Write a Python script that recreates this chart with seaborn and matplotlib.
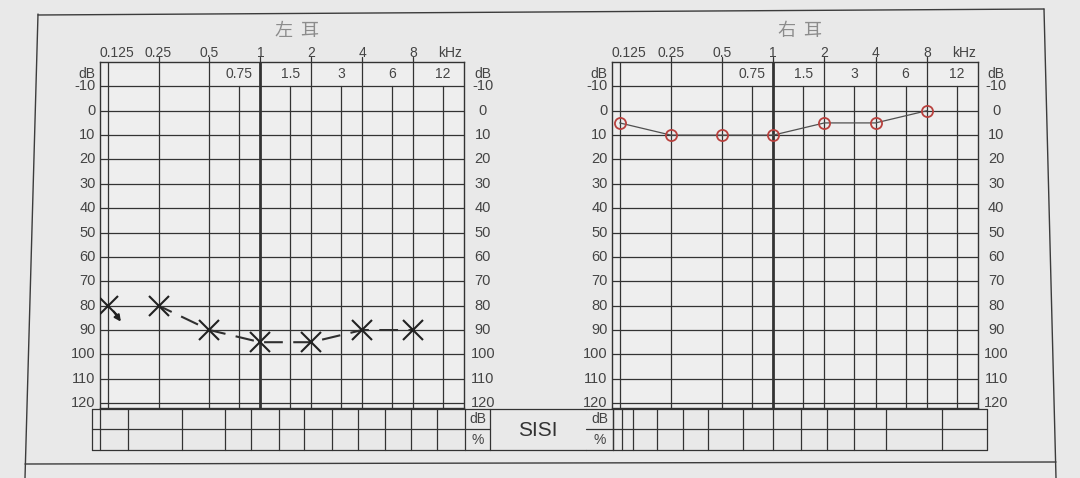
import matplotlib
matplotlib.use("Agg")
import matplotlib.pyplot as plt
from matplotlib.ticker import NullLocator
import pandas as pd
import seaborn as sns

# audiogram values
freqs = [0.125, 0.25, 0.5, 1, 2, 4, 8]
octave_labels = ["0.125", "0.25", "0.5", "1", "2", "4", "8"]
mid_freqs = [0.75, 1.5, 3, 6, 12]
mid_labels = ["0.75", "1.5", "3", "6", "12"]
db_ticks = list(range(-10, 130, 10))
left_db = [80, 80, 90, 95, 95, 90, 90]     # 左耳, X (0.125 kHz = no response)
right_db = [5, 10, 10, 10, 5, 5, 0]        # 右耳, O

W, H = 1080, 478
paper = "#e9e9e9"
inner = "#eeeeee"
ink = "#333333"
label_c = "#444444"
red = "#b8413e"

sns.set_theme(style="white")
plt.rcParams["font.family"] = ["Liberation Sans", "Noto Sans CJK SC"]


def px_box(x0, y0, x1, y1):
    return [x0 / W, 1 - y1 / H, (x1 - x0) / W, (y1 - y0) / H]


fig = plt.figure(figsize=(W / 100, H / 100), dpi=100, facecolor=paper)

# overlay in pixel coords for the printed form (frame, table, titles)
ov = fig.add_axes([0, 0, 1, 1], zorder=0)
ov.set_xlim(0, W)
ov.set_ylim(H, 0)
ov.axis("off")

frame_kw = dict(color="#3c3c3c", lw=1.0)
ov.plot([38, 25], [14, H], **frame_kw)
ov.plot([1044, 1056], [9, H], **frame_kw)
ov.plot([38, 1044], [15, 9], **frame_kw)
ov.plot([25, 1056], [464, 462], **frame_kw)

tab_kw = dict(color=ink, lw=0.9)
top, mid, bot = 409, 429, 450
left_cols = [92, 100, 128, 182, 225, 251, 279, 304, 332, 358, 385, 411, 437, 465]
right_cols = [613, 622, 633, 657, 683, 708, 743, 773, 801, 827, 854, 886, 942, 987]
for cols in (left_cols, right_cols):
    for y in (top, mid, bot):
        ov.plot([cols[0], cols[-1]], [y, y], **tab_kw)
    for x in cols:
        ov.plot([x, x], [top, bot], **tab_kw)
for x0, x1 in ((465, 490), (586, 613)):
    for y in (top, mid, bot):
        ov.plot([x0, x1], [y, y], **tab_kw)
    ov.plot([x1, x1], [top, bot], **tab_kw)
    ov.text((x0 + x1) / 2, 419, "dB", ha="center", va="center", fontsize=10, color=label_c)
    ov.text((x0 + x1) / 2, 440, "%", ha="center", va="center", fontsize=10, color=label_c)
ov.plot([490, 586], [top, top], **tab_kw)
ov.plot([490, 586], [bot, bot], **tab_kw)
ov.text(538, 431, "SISI", ha="center", va="center", fontsize=15, color="#333333")

ov.text(297, 31, "左  耳", ha="center", va="center", fontsize=13, color="#8c8c8c",
        family=["Noto Sans CJK SC"], fontweight="light")
ov.text(800, 31, "右  耳", ha="center", va="center", fontsize=13, color="#8c8c8c",
        family=["Noto Sans CJK SC"], fontweight="light")


def draw_panel(ax, db, ear, right_lab_x):
    ax.set_facecolor(inner)
    ax.set_xscale("log", base=2)
    ax.set_xlim(0.125 * 2 ** -0.15, 16)
    ax.set_ylim(122, -20)
    ax.xaxis.set_minor_locator(NullLocator())
    ax.yaxis.set_minor_locator(NullLocator())
    ax.set_xticks([])
    ax.set_yticks([])
    for s in ax.spines.values():
        s.set_color(ink)
        s.set_linewidth(1.0)

    for d in db_ticks:
        ax.axhline(d, color=ink, lw=0.9, zorder=1)
    for f in freqs:
        ax.axvline(f, color=ink, lw=2.0 if f == 1 else 0.9, zorder=1)
        if f > 0.125:
            ax.plot([f, f], [-20, -22], color=ink, lw=0.9, clip_on=False)
    for f in mid_freqs:
        ax.plot([f, f], [-10, 122], color=ink, lw=0.9, zorder=1)

    for f, lab in zip(freqs, octave_labels):
        if f == 0.125:
            ax.text(ax.get_xlim()[0], -23.8, lab, ha="left", va="center",
                    fontsize=10, color=label_c, clip_on=False)
        else:
            ax.text(f, -23.8, lab, ha="center", va="center",
                    fontsize=10, color=label_c, clip_on=False)
    ax.text(15.6, -23.8, "kHz", ha="right", va="center", fontsize=10,
            color=label_c, clip_on=False)
    for f, lab in zip(mid_freqs, mid_labels):
        ax.text(f, -15, lab, ha="center", va="center", fontsize=10, color=label_c)

    tr = ax.get_yaxis_transform()
    for d in db_ticks:
        ax.text(-0.012, d, str(d), transform=tr, ha="right", va="center",
                fontsize=10.5, color=label_c, clip_on=False)
        ax.text(right_lab_x, d, str(d), transform=tr, ha="center", va="center",
                fontsize=10.5, color=label_c, clip_on=False)
    ax.text(-0.012, -15, "dB", transform=tr, ha="right", va="center",
            fontsize=10, color=label_c, clip_on=False)
    ax.text(right_lab_x, -15, "dB", transform=tr, ha="center", va="center",
            fontsize=10, color=label_c, clip_on=False)

    df = pd.DataFrame({"freq": freqs, "db": db})
    if ear == "left":
        # first point is a no-response mark, not joined to the rest
        sns.lineplot(data=df.iloc[1:], x="freq", y="db", ax=ax, color="#303030",
                     lw=1.5, linestyle=(2, (9, 5)), zorder=3)
        sns.lineplot(data=df, x="freq", y="db", ax=ax, color="#222222", ls="none",
                     marker="x", markersize=14, markeredgewidth=1.5,
                     markeredgecolor="#222222", zorder=4)
        ax.annotate("", xy=(0.153, 87.5), xytext=(0.133, 81.5),
                    arrowprops=dict(arrowstyle="-|>", color="#222222", lw=1.5,
                                    mutation_scale=9), zorder=4)
    else:
        sns.lineplot(data=df, x="freq", y="db", ax=ax, color="#505050", lw=0.9,
                     zorder=3)
        sns.lineplot(data=df, x="freq", y="db", ax=ax, color=red, ls="none",
                     marker="o", markersize=8, markerfacecolor="none",
                     markeredgewidth=1.3, markeredgecolor=red, zorder=4)
    ax.set_xlabel("")
    ax.set_ylabel("")


ax_l = fig.add_axes(px_box(100, 62, 464, 408), zorder=1)
ax_r = fig.add_axes(px_box(612, 62, 978, 408), zorder=1)
draw_panel(ax_l, left_db, "left", 1.052)
draw_panel(ax_r, right_db, "right", 1.05)

fig.savefig("out.png", dpi=100, facecolor=paper)
